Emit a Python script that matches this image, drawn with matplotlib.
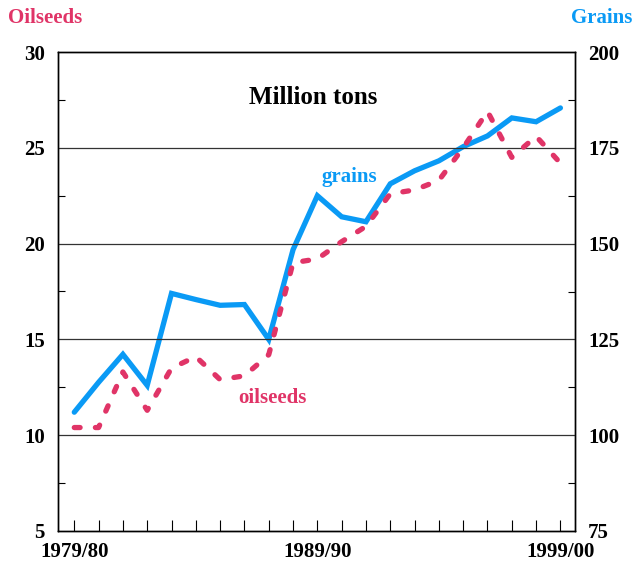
import numpy as np
import matplotlib
matplotlib.use("Agg")
from matplotlib import pyplot as plt
from matplotlib.ticker import MultipleLocator

plt.rcParams['font.family'] = ['Liberation Serif', 'DejaVu Serif']
plt.rcParams['font.weight'] = 'bold'

years = np.arange(1979, 2000)  # crop years 1979/80 ... 1999/00
year_labels = {1979: "1979/80", 1989: "1989/90", 1999: "1999/00"}

# million tons
grains = [106.0, 113.8, 121.1, 113.0, 137.0, 135.4, 133.9, 134.1, 125.0, 148.4,
          162.5, 157.0, 155.7, 165.6, 169.0, 171.6, 175.3, 178.1, 182.8, 181.8, 185.4]
oilseeds = [10.4, 10.4, 13.3, 11.3, 13.5, 14.1, 12.9, 13.1, 14.2, 19.0,
            19.2, 20.1, 20.9, 22.6, 22.8, 23.3, 25.0, 26.9, 24.5, 25.6, 24.2]

blue = "#0a9af5"
pink = "#e03467"

fig = plt.figure(figsize=(6.39, 5.61), dpi=100)
ax = fig.add_axes([58/639, 30/561, 517/639, 479/561])
ax2 = ax.twinx()

# grains on the right scale, oilseeds on the left, oilseeds drawn on top
ax2.plot(years, grains, color=blue, lw=3.8, solid_capstyle='round', solid_joinstyle='miter')
ax.plot(years, oilseeds, color=pink, lw=3.8, linestyle=(0, (1.1, 2.9)),
        dash_capstyle='round')
ax.set_zorder(ax2.get_zorder() + 1)
ax.patch.set_visible(False)

ax.set_xlim(1979 - 0.67, 1999 + 0.6)
ax.set_ylim(5, 30)
ax2.set_ylim(75, 200)

ax.yaxis.set_major_locator(MultipleLocator(5))
ax.yaxis.set_minor_locator(MultipleLocator(2.5))
ax2.yaxis.set_major_locator(MultipleLocator(25))
ax2.yaxis.set_minor_locator(MultipleLocator(12.5))
for a in (ax, ax2):
    a.tick_params(axis='y', which='major', length=0, labelsize=15, pad=9.5)
    a.tick_params(axis='y', which='minor', length=5, direction='in', width=0.8)

ax.set_xticks(years)
ax.set_xticklabels([year_labels.get(y, "") for y in years])
ax.tick_params(axis='x', length=8, direction='in', width=0.8, labelsize=15, pad=8)

for v in [10, 15, 20, 25]:
    ax.axhline(v, color='#333333', lw=0.9, zorder=0)

for a in (ax, ax2):
    for s in a.spines.values():
        s.set_linewidth(1.0)

ax.text(0.493, 0.906, "Million tons", transform=ax.transAxes, fontsize=18,
        ha='center', va='center', fontweight='bold')
ax.text(0.563, 0.739, "grains", transform=ax.transAxes, fontsize=15,
        ha='center', va='center', color=blue, fontweight='bold')
ax.text(0.414, 0.277, "oilseeds", transform=ax.transAxes, fontsize=15,
        ha='center', va='center', color=pink, fontweight='bold')

fig.text(0.0125, 0.968, "Oilseeds", fontsize=15, color=pink, ha='left', va='center',
         fontweight='bold')
fig.text(0.989, 0.968, "Grains", fontsize=15, color=blue, ha='right', va='center',
         fontweight='bold')

fig.savefig("out.png", dpi=100)
